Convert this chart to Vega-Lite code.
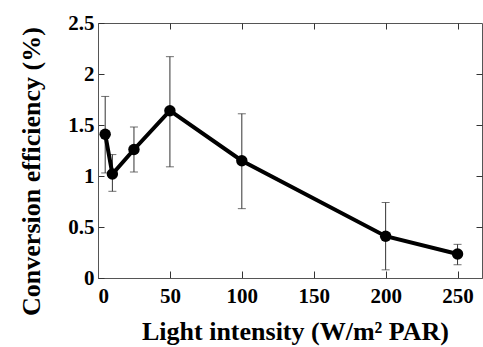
{
  "$schema": "https://vega.github.io/schema/vega-lite/v6.json",
  "width": 384,
  "height": 255,
  "autosize": {"type": "none"},
  "padding": {"left": 98, "top": 23, "right": 1, "bottom": 69},
  "background": "white",
  "config": {
    "view": {"stroke": "#555", "strokeWidth": 1},
    "axis": {
      "grid": false,
      "labelFont": "Liberation Serif",
      "labelFontWeight": "bold",
      "labelFontSize": 21,
      "labelColor": "black",
      "titleFont": "Liberation Serif",
      "titleFontWeight": "bold",
      "titleFontSize": 26,
      "titleColor": "black",
      "domainColor": "#555",
      "tickColor": "#333"
    }
  },
  "data": {
    "values": [
      {"x": 5, "y": 1.41, "lo": 1.03, "hi": 1.78},
      {"x": 10, "y": 1.02, "lo": 0.85, "hi": 1.21},
      {"x": 25, "y": 1.26, "lo": 1.04, "hi": 1.48},
      {"x": 50, "y": 1.64, "lo": 1.09, "hi": 2.17},
      {"x": 100, "y": 1.15, "lo": 0.68, "hi": 1.61},
      {"x": 200, "y": 0.41, "lo": 0.08, "hi": 0.74},
      {"x": 250, "y": 0.235, "lo": 0.13, "hi": 0.33}
    ]
  },
  "resolve": {"axis": {"x": "independent", "y": "independent"}},
  "layer": [
    {
      "mark": {"type": "rule", "color": "#333", "strokeWidth": 1},
      "encoding": {
        "x": {"field": "x", "type": "quantitative",
          "scale": {"domain": [0, 267], "nice": false, "zero": false},
          "axis": {"values": [0, 50, 100, 150, 200, 250], "tickSize": -7, "labelPadding": 14, "title": "Light intensity (W/m² PAR)", "titlePadding": 12, "titleFontSize": 26, "titleX": 197}},
        "y": {"field": "lo", "type": "quantitative",
          "scale": {"domain": [0, 2.5], "nice": false},
          "axis": {"values": [0, 0.5, 1, 1.5, 2, 2.5], "format": "~g", "tickSize": -6, "labelPadding": 10, "title": "Conversion efficiency (%)", "titlePadding": 23, "titleFontSize": 26, "titleY": 148}},
        "y2": {"field": "hi"}
      }
    },
    {
      "mark": {"type": "tick", "orient": "horizontal", "color": "#333", "size": 8, "thickness": 1},
      "encoding": {
        "x": {"field": "x", "type": "quantitative", "axis": {"orient": "top", "values": [50, 100, 150, 200, 250], "labels": false, "title": null, "tickSize": -6, "domain": false}},
        "y": {"field": "lo", "type": "quantitative", "axis": {"orient": "right", "values": [0.5, 1, 1.5, 2], "labels": false, "title": null, "tickSize": -6, "domain": false}}
      }
    },
    {
      "mark": {"type": "tick", "orient": "horizontal", "color": "#333", "size": 8, "thickness": 1},
      "encoding": {
        "x": {"field": "x", "type": "quantitative", "axis": null},
        "y": {"field": "hi", "type": "quantitative", "axis": null}
      }
    },
    {
      "mark": {"type": "line", "color": "black", "strokeWidth": 4},
      "encoding": {
        "x": {"field": "x", "type": "quantitative", "axis": null},
        "y": {"field": "y", "type": "quantitative", "axis": null}
      }
    },
    {
      "mark": {"type": "point", "filled": true, "color": "black", "size": 130, "opacity": 1},
      "encoding": {
        "x": {"field": "x", "type": "quantitative", "axis": null},
        "y": {"field": "y", "type": "quantitative", "axis": null}
      }
    }
  ]
}
